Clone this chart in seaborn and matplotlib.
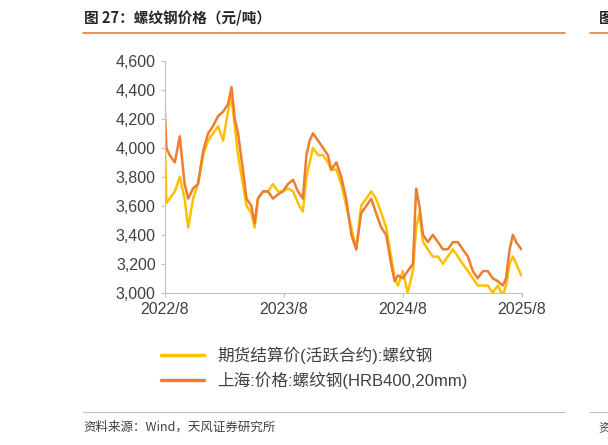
import matplotlib
matplotlib.use("Agg")
import matplotlib.pyplot as plt
import matplotlib.ticker as mticker
import seaborn as sns
import pandas as pd

# days after 2022-08-01
day_offsets = [0, 5, 15, 31, 46, 61, 72, 87, 102, 118, 133, 148, 164, 179, 194, 205, 215, 225, 240, 251,
               266, 276, 286, 302, 317, 332, 348, 363, 378, 394, 409, 424, 435, 445, 455, 471, 486, 501, 511, 527,
               542, 557, 573, 588, 603, 619, 634, 649, 665, 680, 695, 706, 716, 731, 746, 762, 772, 782, 793, 808,
               823, 839, 854, 869, 885, 900, 915, 931, 946, 961, 977, 992, 1007, 1023, 1038, 1048, 1059, 1069, 1079, 1095]
spot_price = [4270, 4000, 3950, 3900, 4080, 3750, 3650, 3720, 3750, 3980, 4100, 4150, 4220, 4250, 4300, 4420, 4200, 4100, 3850, 3650,
              3600, 3480, 3650, 3700, 3700, 3650, 3680, 3700, 3750, 3780, 3700, 3650, 3950, 4050, 4100, 4050, 4000, 3950, 3850, 3900,
              3800, 3650, 3400, 3300, 3550, 3600, 3650, 3550, 3450, 3400, 3200, 3080, 3120, 3100, 3150, 3200, 3720, 3600, 3400, 3350,
              3400, 3350, 3300, 3300, 3350, 3350, 3300, 3250, 3150, 3100, 3150, 3150, 3100, 3080, 3050, 3100, 3300, 3400, 3350, 3300]
futures_price = [4050, 3620, 3650, 3700, 3800, 3650, 3450, 3650, 3750, 3950, 4050, 4100, 4150, 4050, 4250, 4350, 4150, 3950, 3750, 3600,
                 3550, 3450, 3650, 3700, 3700, 3750, 3700, 3700, 3720, 3700, 3620, 3560, 3800, 3900, 4000, 3950, 3950, 3900, 3850, 3850,
                 3750, 3600, 3450, 3300, 3600, 3650, 3700, 3650, 3550, 3450, 3250, 3100, 3050, 3150, 3000, 3150, 3450, 3550, 3350, 3300,
                 3250, 3250, 3200, 3250, 3300, 3250, 3200, 3150, 3100, 3050, 3050, 3050, 3000, 3050, 2980, 3050, 3200, 3250, 3200, 3120]
series_names = ["期货结算价(活跃合约):螺纹钢", "上海:价格:螺纹钢(HRB400,20mm)"]
tick_labels = ["2022/8", "2023/8", "2024/8", "2025/8"]

dates = pd.Timestamp("2022-08-01") + pd.to_timedelta(day_offsets, unit="D")
df = pd.DataFrame({"date": list(dates) * 2,
                   "price": futures_price + spot_price,
                   "series": [series_names[0]] * len(dates) + [series_names[1]] * len(dates)})

sns.set_style("white")
plt.rcParams["font.family"] = ["Liberation Sans", "Noto Sans CJK SC", "DejaVu Sans"]

fig = plt.figure(figsize=(6.08, 4.45), dpi=100)
ax = fig.add_axes([0.271, 0.342, 0.587, 0.521])
sns.lineplot(data=df, x="date", y="price", hue="series",
             palette=["#FFC000", "#ED7D31"], linewidth=1.8, ax=ax, legend=False)

ax.set_ylim(3000, 4600)
ax.set_yticks(range(3000, 4601, 200))
ax.yaxis.set_major_formatter(mticker.StrMethodFormatter("{x:,.0f}"))
ticks = pd.to_datetime(["2022-08-01", "2023-08-01", "2024-08-01", "2025-08-01"])
ax.set_xlim(ticks[0], ticks[-1])
ax.set_xticks(ticks)
ax.set_xticklabels(tick_labels)
ax.set_xlabel("")
ax.set_ylabel("")
for s in ["top", "right"]:
    ax.spines[s].set_visible(False)
for s in ["left", "bottom"]:
    ax.spines[s].set_color("#BFBFBF")
ax.tick_params(axis="both", labelsize=11.5, colors="#BFBFBF", labelcolor="#404040",
               length=3, direction="out", left=True, bottom=True)

# legend
handles = [plt.Line2D([], [], color=c, lw=2.5) for c in ["#FFC000", "#ED7D31"]]
fig.legend(handles, series_names, loc="upper left", bbox_to_anchor=(0.24, 0.255),
           frameon=False, fontsize=12, handlelength=2.6, labelspacing=0.45,
           labelcolor="#404040")

# header / footer
cjk = ["Noto Sans CJK SC", "DejaVu Sans"]
fig.text(0.138, 0.96, "图 27：螺纹钢价格（元/吨）", fontsize=10.5, fontweight="bold", va="center", family=cjk)
fig.text(0.985, 0.96, "图", fontsize=10.5, fontweight="bold", va="center", family=cjk)
fig.add_artist(plt.Line2D([0.136, 0.93], [0.926, 0.926], color="#ED7D31", lw=1.2))
fig.add_artist(plt.Line2D([0.97, 1.0], [0.926, 0.926], color="#ED7D31", lw=1.2))
fig.add_artist(plt.Line2D([0.136, 0.93], [0.075, 0.075], color="#BFBFBF", lw=0.8))
fig.add_artist(plt.Line2D([0.97, 1.0], [0.075, 0.075], color="#BFBFBF", lw=0.8))
fig.text(0.138, 0.04, "资料来源：Wind，天风证券研究所", fontsize=9, color="#404040", va="center", family=cjk)
fig.text(0.985, 0.04, "资", fontsize=9, color="#404040", va="center", family=cjk)

fig.savefig("out.png", dpi=100)
